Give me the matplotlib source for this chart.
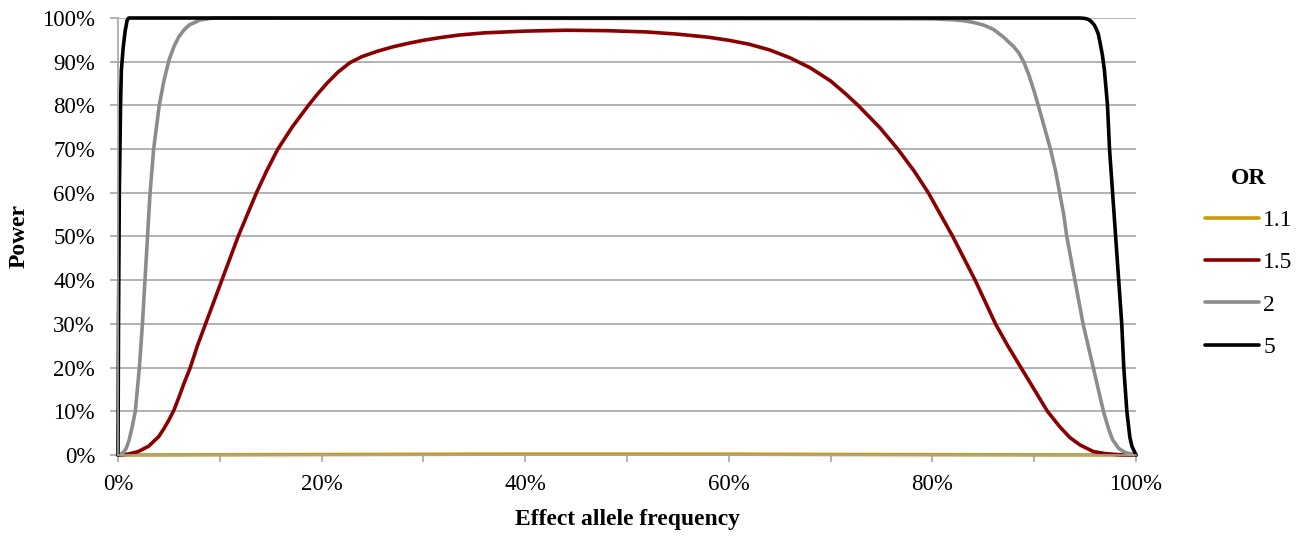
import matplotlib
matplotlib.use("Agg")
import matplotlib.pyplot as plt
from matplotlib.ticker import MultipleLocator, FuncFormatter

plt.rcParams['font.family'] = ['Liberation Serif', 'DejaVu Serif']

# Effect allele frequency (%) and power (%), per OR
freq_11 = [0, 10, 20, 30, 40, 50, 60, 70, 80, 90, 100]
power_11 = [0, 0.05, 0.1, 0.15, 0.2, 0.2, 0.18, 0.12, 0.07, 0.03, 0]

freq_15 = [0, 1, 2, 3, 4, 4.5, 5, 5.5, 6, 6.5, 7.1, 7.8, 8.6, 9.4, 10.2, 11, 11.8, 12.7,
           13.6, 14.6, 15.7, 17.1, 18.7, 19.6, 20.5, 21.6, 22.8, 24, 25.5, 27, 28.5, 30,
           31.6, 33.5, 36, 40, 44, 48, 52, 55, 58, 60, 62, 64, 66, 68, 70, 71.5, 72.7, 74.8,
           76.6, 78.2, 79.6, 80.8, 82, 83.1, 84.2, 85.2, 86.2, 87.4, 88.7, 90, 91.3, 92.5,
           93.5, 94.5, 95.8, 97, 98.5, 100]
power_15 = [0, 0.2, 0.8, 2, 4.2, 6, 8, 10.3, 13.3, 16.5, 20, 25, 30, 35, 40, 45, 50, 55,
            60, 65, 70, 75, 80, 82.6, 85, 87.6, 89.8, 91.2, 92.4, 93.4, 94.2, 94.9,
            95.5, 96.1, 96.6, 97.0, 97.2, 97.1, 96.8, 96.3, 95.6, 94.9, 94.0, 92.7, 90.9,
            88.6, 85.6, 82.6, 80, 75,
            70, 65, 60, 55, 50, 45, 40, 35, 30, 25, 20, 15, 10, 6.5,
            4, 2.3, 0.8, 0.3, 0.05, 0]

freq_2 = [0, 0.5, 0.8, 1.1, 1.4, 1.7, 2.1, 2.4, 2.65, 2.9, 3.15, 3.5, 4.05, 4.5, 5.0, 5.5,
          6.0, 6.5, 7, 8, 9, 10, 80, 82, 83, 84, 85, 86, 87, 88, 88.5, 89, 89.5, 90, 90.4,
          91.0, 91.6, 92.1, 92.5, 92.9, 93.2, 93.6, 94, 94.4, 94.8, 95.3, 95.8, 96.3, 96.8,
          97.3, 97.7, 98.3, 99, 100]
power_2 = [0, 0.5, 1.5, 3.5, 6.5, 10, 20, 30, 40, 50, 60, 70, 80, 85.5, 90.3, 93.5,
           95.8, 97.3, 98.4, 99.5, 99.9, 100, 99.8, 99.6, 99.4, 99.0, 98.4, 97.4, 95.6, 93.4,
           92, 89.8, 86.8, 83.2, 80,
           75, 70, 65, 60, 55, 50, 45, 40, 35, 30, 25, 20, 15, 10,
           6, 3.5, 1.5, 0.5, 0]

freq_5 = [0, 0.05, 0.13, 0.25, 0.33, 0.5, 0.7, 0.9, 1.05, 94.5, 95, 95.3, 95.6, 95.9,
          96.1, 96.3, 96.5, 96.7, 96.9, 97.2, 97.4, 97.7, 98, 98.3, 98.6, 98.8, 99.1,
          99.4, 99.6, 100]
power_5 = [0, 30, 60, 80, 88, 93, 97, 99.5, 100, 100, 99.9, 99.7, 99.2, 98.4,
           97.5, 96.3, 94, 91.5, 88, 80, 70, 60, 50, 40, 30, 20, 10,
           4, 2, 0]

series = [("1.1", freq_11, power_11, "#C99A06"),
          ("1.5", freq_15, power_15, "#8B0000"),
          ("2", freq_2, power_2, "#8C8C8C"),
          ("5", freq_5, power_5, "#000000")]

fig = plt.figure(figsize=(13.11, 5.38), dpi=100)
ax = fig.add_axes([118 / 1311, 1 - 455 / 538, (1136 - 118) / 1311, (455 - 18) / 538])

for label, fx, py, col in series:
    ax.plot([v / 100 for v in fx], [v / 100 for v in py], color=col, lw=2.6,
            label=label, solid_joinstyle='round', solid_capstyle='round', clip_on=False)

ax.set_xlim(0, 1)
ax.set_ylim(0, 1)
ax.yaxis.set_major_locator(MultipleLocator(0.1))
ax.xaxis.set_major_locator(MultipleLocator(0.2))
ax.xaxis.set_minor_locator(MultipleLocator(0.1))
pct = FuncFormatter(lambda v, p: f"{v * 100:.0f}%")
ax.yaxis.set_major_formatter(pct)
ax.xaxis.set_major_formatter(pct)

ax.grid(axis='y', color='#A6A6A6', lw=1.2)
ax.set_axisbelow(True)
for s in ['top', 'right']:
    ax.spines[s].set_visible(False)
ax.spines['left'].set_color('#A6A6A6')
ax.spines['bottom'].set_color('#A6A6A6')
ax.spines['left'].set_linewidth(1.2)
ax.spines['bottom'].set_linewidth(1.2)
ax.tick_params(axis='both', which='both', color='#A6A6A6', width=1.2, direction='out',
               labelsize=16.5, colors='#A6A6A6', labelcolor='black')
ax.tick_params(axis='x', which='both', length=5, pad=9)
ax.tick_params(axis='y', length=5.5, pad=11)

ax.set_xlabel("Effect allele frequency", fontsize=17, fontweight='bold')
ax.set_ylabel("Power", fontsize=17, fontweight='bold')
ax.xaxis.set_label_coords(0.5, -0.124)
ax.yaxis.set_label_coords(-0.087, 0.5)

leg = ax.legend(title="OR", loc='center left', bbox_to_anchor=(1.047, 0.44),
                frameon=False, fontsize=17, title_fontproperties={'weight': 'bold', 'size': 17},
                handlelength=2.29, handletextpad=0.17, labelspacing=0.88)

fig.savefig("out.png", dpi=100)
